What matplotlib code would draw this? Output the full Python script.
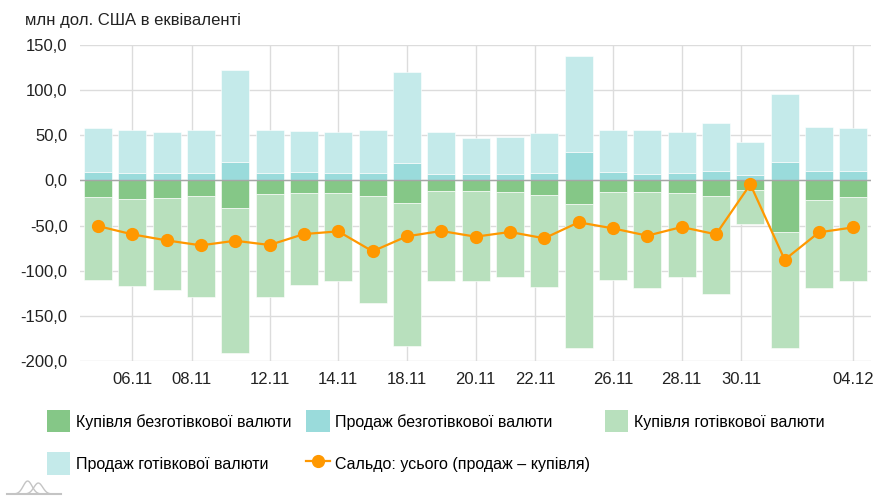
import matplotlib.pyplot as plt
import matplotlib.patches as patches
import numpy as np

plt.rcParams['font.family'] = ['Liberation Sans', 'DejaVu Sans']

# values in mln USD, one per trading day
sale_noncash = [9.3, 8.5, 8.5, 8.2, 20.4, 8.2, 9.3, 7.8, 8.2, 19.3, 7.4, 7.4,
                6.7, 8.2, 31.4, 9.3, 7.4, 8.2, 10.4, 6.0, 20.4, 10.4, 10.1]
sale_total = [58.4, 56.2, 53.6, 56.2, 122.6, 55.8, 54.4, 53.6, 55.8, 120.0, 53.6, 47.3,
              48.4, 52.8, 137.4, 55.8, 55.8, 53.6, 63.6, 42.2, 95.7, 59.5, 58.0]
buy_noncash = [18.4, 20.2, 19.5, 17.3, 30.2, 14.7, 14.0, 14.0, 17.3, 24.7, 11.4, 12.1,
               12.8, 16.2, 25.8, 12.8, 13.2, 13.6, 17.3, 11.0, 57.5, 21.7, 18.4]
buy_total = [110.0, 117.0, 121.7, 129.5, 191.0, 128.8, 115.5, 111.8, 135.8, 183.0, 111.4, 111.4,
             107.0, 118.4, 185.6, 110.3, 118.8, 107.0, 125.5, 47.9, 185.2, 118.8, 111.4]
saldo = [-50.5, -59.7, -66.4, -71.9, -66.8, -71.5, -59.4, -56.4, -78.5, -61.9, -56.0, -62.3,
         -57.1, -64.1, -46.4, -53.1, -61.2, -51.6, -59.7, -4.3, -87.8, -57.5, -52.0]

tick_labels = ['06.11', '08.11', '12.11', '14.11', '18.11', '20.11', '22.11',
               '26.11', '28.11', '30.11', '04.12']
tick_pos = [1, 2.74, 5, 7, 9, 11, 12.74, 15, 17, 18.73, 22]

c_buy_nc = '#85c787'
c_sale_nc = '#9adbdb'
c_buy_c = '#b8e0bd'
c_sale_c = '#c4eaea'
c_line = '#ff9800'

sale_cash = np.array(sale_total) - np.array(sale_noncash)
buy_cash = np.array(buy_total) - np.array(buy_noncash)
x = np.arange(len(saldo))

fig = plt.figure(figsize=(8.91, 5.0), dpi=100)
ax = fig.add_axes([0.0898, 0.278, 0.8872, 0.632])

w = 0.815
kw = dict(width=w, edgecolor='white', linewidth=0.4, zorder=2)
ax.bar(x, [-v for v in buy_noncash], color=c_buy_nc, **kw)
ax.bar(x, sale_noncash, color=c_sale_nc, **kw)
ax.bar(x, -buy_cash, bottom=[-v for v in buy_noncash], color=c_buy_c, **kw)
ax.bar(x, sale_cash, bottom=sale_noncash, color=c_sale_c, **kw)
ln, = ax.plot(x, saldo, color=c_line, lw=1.6, marker='o', markersize=8.5, zorder=4)

ax.axhline(0, color='#a6a6a6', lw=1, zorder=3)

ax.set_xlim(-0.52, 22.5)
ax.set_ylim(-200, 150)
ax.set_yticks(np.arange(-200, 151, 50))
ax.set_yticklabels([f'{v:.1f}'.replace('.', ',') for v in np.arange(-200, 151, 50)])
ax.set_xticks(tick_pos)
ax.set_xticklabels(tick_labels)
ax.grid(True, color='#dcdcdc', lw=1, zorder=0)
ax.set_axisbelow(True)
for s in ax.spines.values():
    s.set_visible(False)
ax.tick_params(length=0, labelsize=12, colors='#222222')
ax.tick_params(axis='y', pad=9)
ax.tick_params(axis='x', pad=8)

fig.text(0.028, 0.958, 'млн дол. США в еквіваленті', fontsize=12, color='#222222',
         va='center', ha='left')

h1 = patches.Patch(facecolor=c_buy_nc)
h2 = patches.Patch(facecolor=c_sale_nc)
h3 = patches.Patch(facecolor=c_buy_c)
h4 = patches.Patch(facecolor=c_sale_c)
handles = [h1, h4, h2, ln, h3]
labels = ['Купівля безготівкової валюти', 'Продаж готівкової валюти',
          'Продаж безготівкової валюти', 'Сальдо: усього (продаж – купівля)',
          'Купівля готівкової валюти']
fig.legend(handles, labels, ncol=3, loc='upper left', bbox_to_anchor=(0.0455, 0.192),
           frameon=False, fontsize=11.5, handlelength=1.45, handleheight=1.75,
           handletextpad=0.35, columnspacing=0.95, labelspacing=1.25, borderaxespad=0)

# faint logo
t = np.linspace(0, 1, 60)
lx = 0.008 + 0.06 * t
p1 = 0.026 * np.exp(-((lx - 0.031) / 0.007) ** 2)
p2 = 0.022 * np.exp(-((lx - 0.043) / 0.007) ** 2)
for p in (p1, p2):
    fig.lines.append(plt.Line2D(lx, 0.012 + p, transform=fig.transFigure,
                                color='#c4c4c4', lw=1))
fig.lines.append(plt.Line2D([0.008, 0.068], [0.012, 0.012], transform=fig.transFigure,
                            color='#c4c4c4', lw=1.5))

fig.savefig('out.png', dpi=100)
